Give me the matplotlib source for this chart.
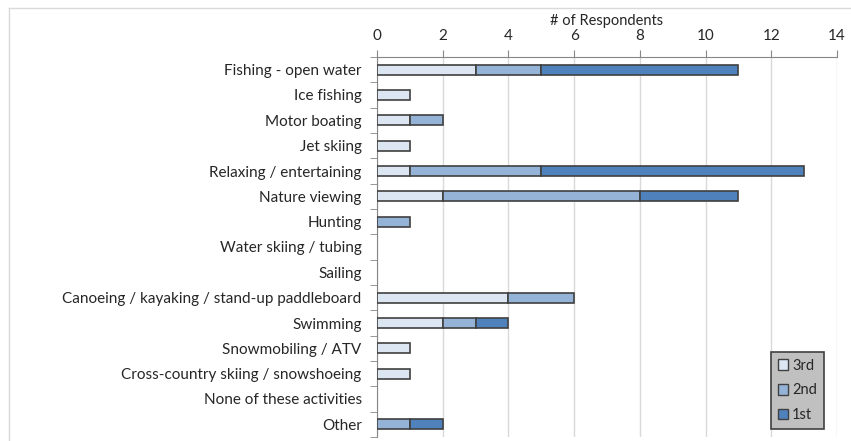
import matplotlib.pyplot as plt
import numpy as np
from matplotlib.lines import Line2D

plt.rcParams['font.family'] = ['Lato', 'DejaVu Sans']

activities = [
    "Fishing - open water", "Ice fishing", "Motor boating", "Jet skiing",
    "Relaxing / entertaining", "Nature viewing", "Hunting",
    "Water skiing / tubing", "Sailing",
    "Canoeing / kayaking / stand-up paddleboard", "Swimming",
    "Snowmobiling / ATV", "Cross-country skiing / snowshoeing",
    "None of these activities", "Other",
]
third = [3, 1, 1, 1, 1, 2, 0, 0, 0, 4, 2, 1, 1, 0, 0]
second = [2, 0, 1, 0, 4, 6, 1, 0, 0, 2, 1, 0, 0, 0, 1]
first = [6, 0, 0, 0, 8, 3, 0, 0, 0, 0, 1, 0, 0, 0, 1]

series = [("3rd", third, "#dce6f2"), ("2nd", second, "#95b3d7"), ("1st", first, "#4f81bd")]

fig = plt.figure(figsize=(8.51, 4.41), dpi=100)
ax = fig.add_axes([377 / 851, 1 - 437 / 441, 460 / 851, 380 / 441])

y = np.arange(len(activities))
left = np.zeros(len(activities))
handles = []
for name, vals, col in series:
    vals = np.array(vals, dtype=float)
    nz = vals > 0  # skip empty segments so no stray edge lines are drawn
    ax.barh(y[nz], vals[nz], left=left[nz], height=0.4, color=col, edgecolor="#404040",
            linewidth=1.2, zorder=3)
    left += vals
    handles.append(plt.Rectangle((0, 0), 1, 1, facecolor=col, edgecolor="#404040", linewidth=1))

ax.set_xlim(0, 14)
ax.set_ylim(len(activities) - 0.5, -0.5)
ax.set_xticks(np.arange(0, 15, 2))
ax.xaxis.tick_top()
ax.xaxis.set_label_position("top")
ax.set_xlabel("# of Respondents", fontsize=10.5, color="#262626", labelpad=3)
ax.tick_params(axis="x", length=5, color="#868686", labelsize=11, labelcolor="#262626", pad=5)
ax.grid(axis="x", color="#d9d9d9", linewidth=1, zorder=0)

ax.set_yticks(y)
ax.set_yticklabels(activities)
ax.set_yticks(np.arange(len(activities) + 1) - 0.5, minor=True)
ax.tick_params(axis="y", which="major", length=0, labelsize=11, labelcolor="#262626", pad=11)
ax.tick_params(axis="y", which="minor", length=5, color="#868686")

for s in ["right", "bottom"]:
    ax.spines[s].set_visible(False)
ax.spines["left"].set_color("#868686")
ax.spines["top"].set_color("#868686")

leg = ax.legend(handles, [s[0] for s in series], loc="upper left",
                bbox_to_anchor=(771 / 851, 1 - 352 / 441), bbox_transform=fig.transFigure,
                fontsize=10.5, facecolor="#c0c0c0", edgecolor="#404040", fancybox=False,
                framealpha=1, handlelength=0.7, handleheight=0.7, handletextpad=0.3,
                labelspacing=0.75, borderpad=0.45, borderaxespad=0)
leg.get_frame().set_linewidth(1.2)
for t in leg.get_texts():
    t.set_color("#262626")

fig.add_artist(Line2D([9 / 851, 1], [1 - 8 / 441] * 2, color="#d9d9d9", lw=1))
fig.add_artist(Line2D([9 / 851] * 2, [0, 1 - 8 / 441], color="#d9d9d9", lw=1))

fig.savefig("out.png", dpi=100)
